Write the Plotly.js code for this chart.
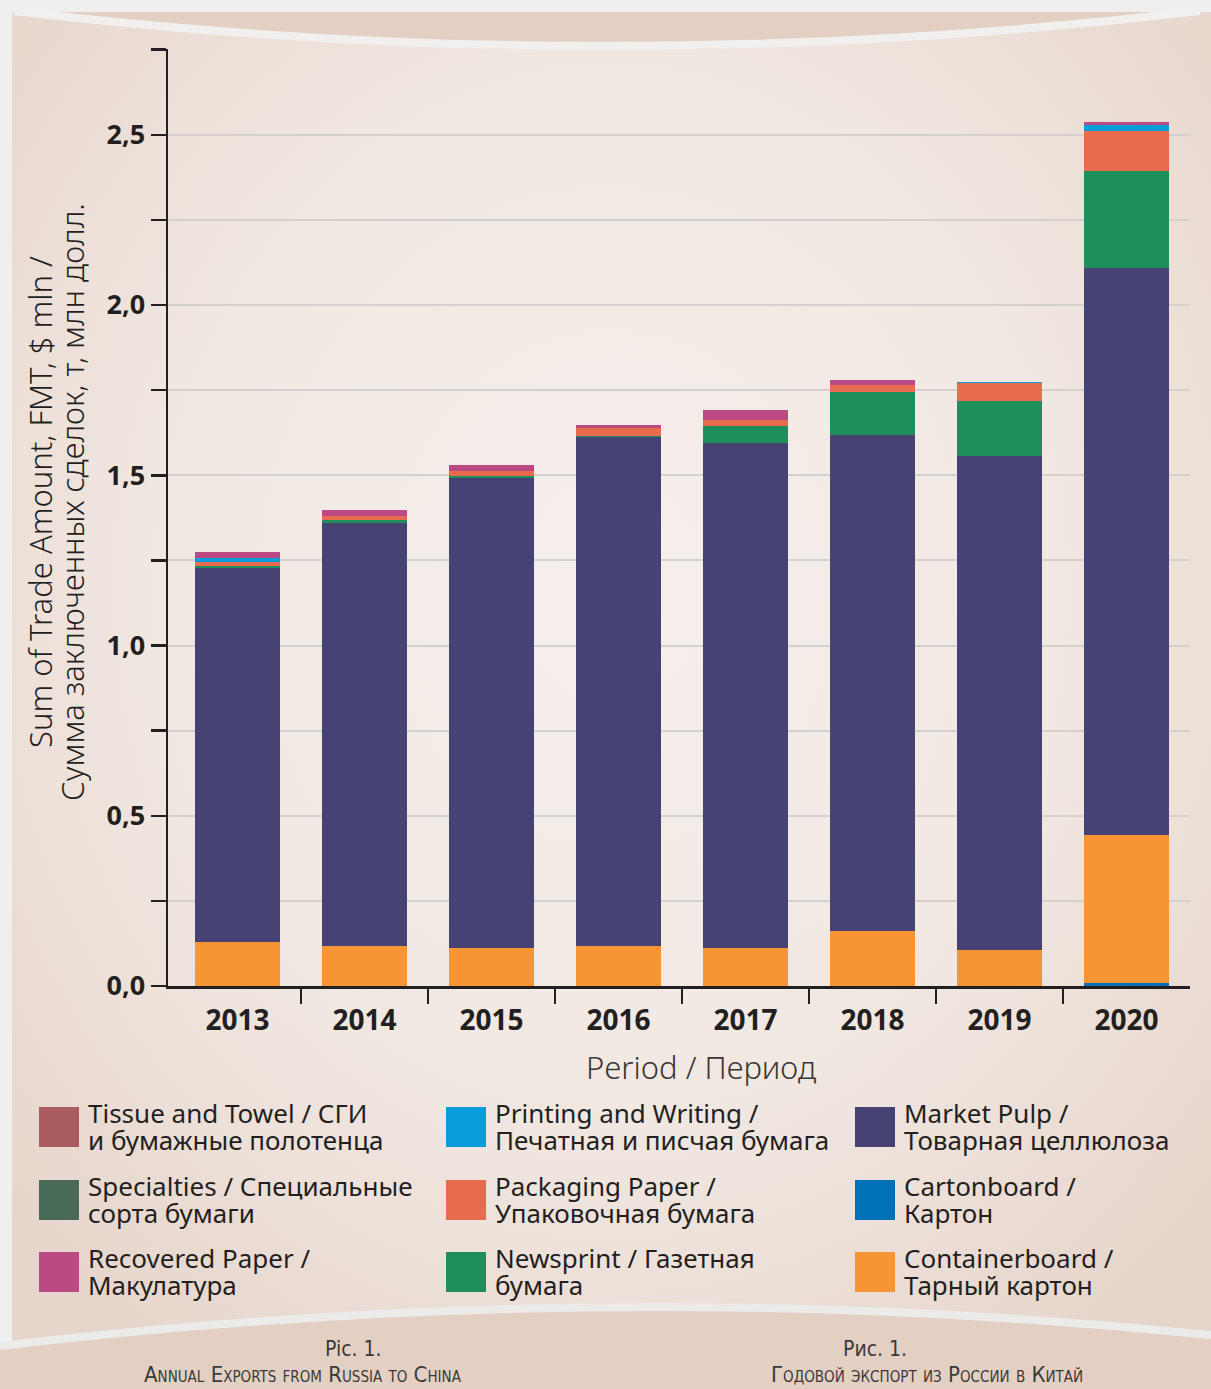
<!DOCTYPE html>
<html>
<head>
<meta charset="utf-8">
<script src="https://cdn.plot.ly/plotly-3.0.1.min.js"></script>
<style>html,body{margin:0;padding:0;background:#efefef;}#chart{width:1211px;height:1389px;}</style>
</head>
<body>
<div id="chart"></div>
<script>
// ---- data ($ mln) ----
const years = ['2013', '2014', '2015', '2016', '2017', '2018', '2019', '2020'];
const cartonboard    = [0, 0, 0, 0, 0, 0, 0, 0.009];
const containerboard = [0.129, 0.118, 0.112, 0.118, 0.112, 0.162, 0.106, 0.435];
const marketPulp     = [1.099, 1.242, 1.380, 1.495, 1.483, 1.457, 1.451, 1.666];
const specialties    = [0, 0, 0, 0, 0, 0, 0, 0];
const newsprint      = [0.006, 0.009, 0.006, 0.003, 0.050, 0.126, 0.162, 0.285];
const packaging      = [0.012, 0.012, 0.015, 0.023, 0.018, 0.021, 0.053, 0.115];
const printing       = [0.012, 0, 0, 0, 0, 0, 0.003, 0.018];
const tissue         = [0, 0, 0, 0, 0, 0, 0, 0];
const recovered      = [0.018, 0.018, 0.018, 0.009, 0.029, 0.015, 0, 0.009];

// legend labels (two lines each)
const labelTissue         = ['Tissue and Towel / СГИ', 'и бумажные полотенца'];
const labelSpecialties    = ['Specialties / Специальные', 'сорта бумаги'];
const labelRecovered      = ['Recovered Paper /', 'Макулатура'];
const labelPrinting       = ['Printing and Writing /', 'Печатная и писчая бумага'];
const labelPackaging      = ['Packaging Paper /', 'Упаковочная бумага'];
const labelNewsprint      = ['Newsprint / Газетная', 'бумага'];
const labelMarketPulp     = ['Market Pulp /', 'Товарная целлюлоза'];
const labelCartonboard    = ['Cartonboard /', 'Картон'];
const labelContainerboard = ['Containerboard /', 'Тарный картон'];

const yTitle = ['Sum of Trade Amount, FMT, $ mln /', 'Сумма заключенных сделок, т, млн долл.'];
const xTitle = 'Period / Период';
const captionEn = ['Pic. 1.', 'Annual Exports from Russia to China'];
const captionRu = ['Рис. 1.', 'Годовой экспорт из России в Китай'];

// ---- styles ----
const C = {
  tissue: '#aa5c60', specialties: '#4a6a58', recovered: '#bb4a84',
  printing: '#0a9ddb', packaging: '#e86b4f', newsprint: '#1e8f5c',
  marketPulp: '#474274', cartonboard: '#0070b8', containerboard: '#f79433'
};
const INK = '#231f20';

// stacking order bottom -> top
const stack = [
  ['cartonboard', cartonboard, labelCartonboard],
  ['containerboard', containerboard, labelContainerboard],
  ['marketPulp', marketPulp, labelMarketPulp],
  ['specialties', specialties, labelSpecialties],
  ['newsprint', newsprint, labelNewsprint],
  ['packaging', packaging, labelPackaging],
  ['printing', printing, labelPrinting],
  ['tissue', tissue, labelTissue],
  ['recovered', recovered, labelRecovered]
];

const xIdx = years.map((_, i) => i);
const traces = stack.map(([key, vals, lab]) => ({
  type: 'bar', x: xIdx, y: vals, name: lab.join(' '),
  customdata: years,
  marker: { color: C[key], line: { width: 0 } },
  width: 0.67, showlegend: false,
  hovertemplate: '%{customdata}: %{y}<extra>' + lab[0] + '</extra>'
}));

// plot area in pixels
const W = 1211, H = 1389, L = 168, R = 1190, T = 49, B = 986;
const px = x => (x - L) / (R - L);
const py = y => (B - y) / (B - T);

// background artwork as an inline SVG image
const bgSvg =
  '<svg xmlns="http://www.w3.org/2000/svg" width="' + W + '" height="' + H + '" viewBox="0 0 ' + W + ' ' + H + '">' +
  '<defs><radialGradient id="g" cx="50%" cy="42%" r="68%">' +
  '<stop offset="0" stop-color="#f6efeb"/><stop offset="0.55" stop-color="#f1e8e2"/><stop offset="1" stop-color="#e6d5cb"/>' +
  '</radialGradient></defs>' +
  '<rect x="0" y="0" width="' + W + '" height="' + H + '" fill="#efefef"/>' +
  '<rect x="12" y="12" width="' + (W - 12) + '" height="' + (H - 12) + '" fill="url(#g)"/>' +
  '<path d="M18,12 Q605,80 1195,12 Z" fill="#e3d0c3"/>' +
  '<path d="M14,11 Q605,81 1200,11" fill="none" stroke="#f1f0ee" stroke-width="8"/>' +
  '<path d="M0,1346 Q605,1274 ' + W + ',1335 L' + W + ',' + H + ' L0,' + H + ' Z" fill="#e3d0c3"/>' +
  '<path d="M0,1346 Q605,1274 ' + W + ',1335" fill="none" stroke="#ebebea" stroke-width="8"/>' +
  '</svg>';
const images = [{
  source: 'data:image/svg+xml;charset=utf-8,' + encodeURIComponent(bgSvg),
  xref: 'paper', yref: 'paper', x: px(0), y: py(0),
  sizex: W / (R - L), sizey: H / (B - T),
  xanchor: 'left', yanchor: 'top', sizing: 'stretch', layer: 'below'
}];

const shapes = [];
const annotations = [];
const FONT = 'Noto Sans, Open Sans, DejaVu Sans, sans-serif';

// custom legend: 3 columns x 3 rows
const legendGrid = [
  [['tissue', labelTissue], ['specialties', labelSpecialties], ['recovered', labelRecovered]],
  [['printing', labelPrinting], ['packaging', labelPackaging], ['newsprint', labelNewsprint]],
  [['marketPulp', labelMarketPulp], ['cartonboard', labelCartonboard], ['containerboard', labelContainerboard]]
];
const colX = [39, 446, 855];
const rowY = [1107, 1180, 1252];
legendGrid.forEach((col, ci) => {
  col.forEach(([key, lab], ri) => {
    const sx = colX[ci], sy = rowY[ri];
    shapes.push({ type: 'rect', xref: 'paper', yref: 'paper',
      x0: px(sx), x1: px(sx + 40), y0: py(sy), y1: py(sy + 40),
      fillcolor: C[key], line: { width: 0 } });
    lab.forEach((t, li) => {
      annotations.push({ xref: 'paper', yref: 'paper', x: px(sx + 47), y: py(sy + 6 + li * 27),
        xanchor: 'left', yanchor: 'middle', showarrow: false, text: t,
        font: { family: FONT, size: 26, color: INK } });
    });
  });
});

// y axis title (two rotated lines)
annotations.push({ xref: 'paper', yref: 'paper', x: px(40), y: py(502), textangle: -90,
  showarrow: false, xanchor: 'center', yanchor: 'middle', text: yTitle[0],
  font: { family: FONT, size: 31, color: INK, weight: 300 } });
annotations.push({ xref: 'paper', yref: 'paper', x: px(72), y: py(502), textangle: -90,
  showarrow: false, xanchor: 'center', yanchor: 'middle', text: yTitle[1],
  font: { family: FONT, size: 31, color: INK, weight: 300 } });
// x axis title
annotations.push({ xref: 'paper', yref: 'paper', x: px(701), y: py(1067),
  showarrow: false, xanchor: 'center', yanchor: 'middle', text: xTitle,
  font: { family: FONT, size: 31, color: '#3a3536', weight: 300 } });
// captions
const CAPF = 'Liberation Sans Narrow, DejaVu Sans Condensed, sans-serif';
annotations.push({ xref: 'paper', yref: 'paper', x: px(353), y: py(1349), showarrow: false,
  xanchor: 'center', yanchor: 'middle', text: captionEn[0], font: { family: CAPF, size: 21, color: '#3a3a3a' } });
annotations.push({ xref: 'paper', yref: 'paper', x: px(303), y: py(1374), showarrow: false,
  xanchor: 'center', yanchor: 'middle', text: captionEn[1], font: { family: CAPF, size: 22, color: '#3a3a3a', variant: 'small-caps' } });
annotations.push({ xref: 'paper', yref: 'paper', x: px(875), y: py(1349), showarrow: false,
  xanchor: 'center', yanchor: 'middle', text: captionRu[0], font: { family: CAPF, size: 21, color: '#3a3a3a' } });
annotations.push({ xref: 'paper', yref: 'paper', x: px(927), y: py(1374), showarrow: false,
  xanchor: 'center', yanchor: 'middle', text: captionRu[1], font: { family: CAPF, size: 22, color: '#3a3a3a', variant: 'small-caps' } });

const boundaries = years.slice(1).map((_, i) => i + 0.5);

const layout = {
  width: W, height: H, autosize: false,
  margin: { l: L, r: W - R, t: T, b: H - B, pad: 0 },
  paper_bgcolor: '#efefef', plot_bgcolor: 'rgba(0,0,0,0)',
  barmode: 'stack', separators: ', ',
  showlegend: false,
  font: { family: FONT, color: INK },
  xaxis: {
    type: 'linear', range: [-0.547, 7.5],
    tickmode: 'array', tickvals: xIdx, ticktext: years,
    showline: true, linecolor: INK, linewidth: 2.5,
    ticks: 'outside', ticklen: 8, tickwidth: 2.5, tickcolor: 'rgba(0,0,0,0)',
    tickfont: { family: FONT, size: 28, color: INK, weight: 'bold' },
    minor: { tickmode: 'array', tickvals: boundaries, ticks: 'outside', ticklen: 15, tickwidth: 2.5, tickcolor: INK, showgrid: false },
    showgrid: false, zeroline: false
  },
  yaxis: {
    range: [0, 2.752], tick0: 0, dtick: 0.5, tickformat: '.1f',
    showline: true, linecolor: INK, linewidth: 2.5,
    ticks: 'outside', ticklen: 15, tickwidth: 2.5, tickcolor: INK,
    tickfont: { family: FONT, size: 27, color: INK, weight: 'bold' },
    showgrid: true, gridcolor: '#d4d0ce', gridwidth: 2, zeroline: false,
    minor: { tick0: 0, dtick: 0.25, ticks: 'outside', ticklen: 15, tickwidth: 2.5, tickcolor: INK,
      showgrid: true, gridcolor: '#d4d0ce', gridwidth: 2 }
  },
  images: images,
  shapes: shapes,
  annotations: annotations
};

Plotly.newPlot('chart', traces, layout, { displayModeBar: false, staticPlot: true });
</script>
</body>
</html>
